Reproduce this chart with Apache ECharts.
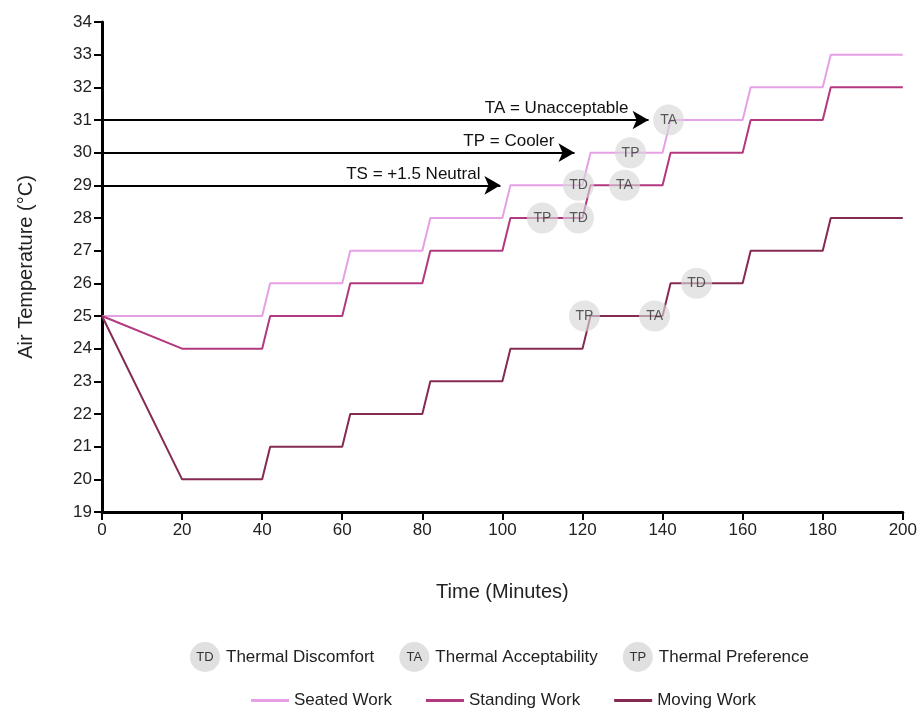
<!DOCTYPE html>
<html>
<head>
<meta charset="utf-8">
<script src="https://cdn.jsdelivr.net/npm/echarts@6/dist/echarts.min.js"></script>
<style>
  html, body { margin: 0; padding: 0; background: #fff; }
  #main { width: 920px; height: 709px; }
</style>
</head>
<body>
<div id="main"></div>
<script>
// time (min), temperature (°C)
const seated = [[0,25],[40,25],[42,26],[60,26],[62,27],[80,27],[82,28],[100,28],[102,29],[120,29],[122,30],[140,30],[142,31],[160,31],[162,32],[180,32],[182,33],[200,33]];
const standing = [[0,25],[20,24],[40,24],[42,25],[60,25],[62,26],[80,26],[82,27],[100,27],[102,28],[120,28],[122,29],[140,29],[142,30],[160,30],[162,31],[180,31],[182,32],[200,32]];
const moving = [[0,25],[20,20],[40,20],[42,21],[60,21],[62,22],[80,22],[82,23],[100,23],[102,24],[120,24],[122,25],[140,25],[142,26],[160,26],[162,27],[180,27],[182,28],[200,28]];

// marker points [time, temp]
const tdPoints = [[119,29],[119,28],[148.5,26]];
const taPoints = [[141.5,31],[130.5,29],[138,25]];
const tpPoints = [[132,30],[110,28],[120.5,25]];

// threshold arrows: [level, end time, label]
const arrows = [[31,136.5,'TA = Unacceptable'],[30,118,'TP = Cooler'],[29,99.5,'TS = +1.5 Neutral']];

const lineNames = ['Seated Work','Standing Work','Moving Work'];
const lineColors = ['#e6a1e6','#b2387f','#852a52'];

const chart = echarts.init(document.getElementById('main'));
const font = 'Liberation Sans, Arial, sans-serif';

function bubbles(name, abbr, pts) {
  return {
    name: name,
    type: 'scatter',
    symbol: 'circle',
    symbolSize: 31,
    z: 5,
    itemStyle: { color: 'rgba(214,214,214,0.8)' },
    label: { show: true, position: 'inside', formatter: abbr, color: '#333', fontSize: 14, fontFamily: font },
    emphasis: { disabled: true },
    data: pts
  };
}

const legendRich = {
  c: { backgroundColor: '#e0e0e0', borderRadius: 15, width: 30, height: 30, align: 'center', fontSize: 13, color: '#333', fontFamily: font },
  t: { fontSize: 17, color: '#222', fontFamily: font, padding: [0, 0, 0, 6] }
};
const abbrMap = { 'Thermal Discomfort': 'TD', 'Thermal Acceptability': 'TA', 'Thermal Preference': 'TP' };

const option = {
  backgroundColor: '#fff',
  animation: false,
  grid: { left: 102, right: 17, top: 22, bottom: 197 },
  legend: [
    {
      data: ['Thermal Discomfort','Thermal Acceptability','Thermal Preference'],
      top: 637,
      left: 180,
      icon: 'none',
      itemWidth: 0,
      itemGap: 20,
      formatter: n => '{c|' + abbrMap[n] + '}{t|' + n + '}',
      textStyle: { rich: legendRich }
    },
    {
      data: lineNames,
      top: 687,
      left: 246,
      itemWidth: 38,
      itemHeight: 3,
      itemGap: 34,
      icon: 'rect',
      textStyle: { fontSize: 17, color: '#222', fontFamily: font }
    }
  ],
  xAxis: {
    type: 'value', min: 0, max: 200, interval: 20,
    name: 'Time (Minutes)', nameLocation: 'middle', nameGap: 70,
    nameTextStyle: { fontSize: 20, color: '#222', fontFamily: font },
    axisLine: { lineStyle: { color: '#000', width: 3 } },
    axisTick: { length: 8, lineStyle: { color: '#000', width: 2 } },
    axisLabel: { fontSize: 17, color: '#222', margin: 10, fontFamily: font },
    splitLine: { show: false }
  },
  yAxis: {
    type: 'value', min: 19, max: 34, interval: 1,
    name: 'Air Temperature (°C)', nameLocation: 'middle', nameGap: 66, nameRotate: 90,
    nameTextStyle: { fontSize: 20, color: '#222', fontFamily: font },
    axisLine: { show: true, lineStyle: { color: '#000', width: 3 } },
    axisTick: { show: true, length: 8, lineStyle: { color: '#000', width: 2 } },
    axisLabel: { fontSize: 17, color: '#222', margin: 10, fontFamily: font },
    splitLine: { show: false }
  },
  series: [
    ...[seated, standing, moving].map((d, i) => ({
      name: lineNames[i],
      type: 'line',
      data: d,
      showSymbol: false,
      z: 3,
      color: lineColors[i],
      lineStyle: { color: lineColors[i], width: 2 },
      emphasis: { disabled: true },
      markLine: i === 0 ? {
        silent: true,
        symbol: ['none', 'arrow'],
        symbolSize: [14, 16],
        lineStyle: { color: '#000', width: 2, type: 'solid' },
        label: { show: true, position: 'insideEndTop', distance: [20, 3], color: '#111', fontSize: 17, fontFamily: font, formatter: p => p.data.labelText },
        data: arrows.map(a => [
          { coord: [0, a[0]], labelText: a[2] },
          { coord: [a[1], a[0]] }
        ])
      } : undefined
    })),
    bubbles('Thermal Discomfort', 'TD', tdPoints),
    bubbles('Thermal Acceptability', 'TA', taPoints),
    bubbles('Thermal Preference', 'TP', tpPoints)
  ]
};

chart.setOption(option);
</script>
</body>
</html>
